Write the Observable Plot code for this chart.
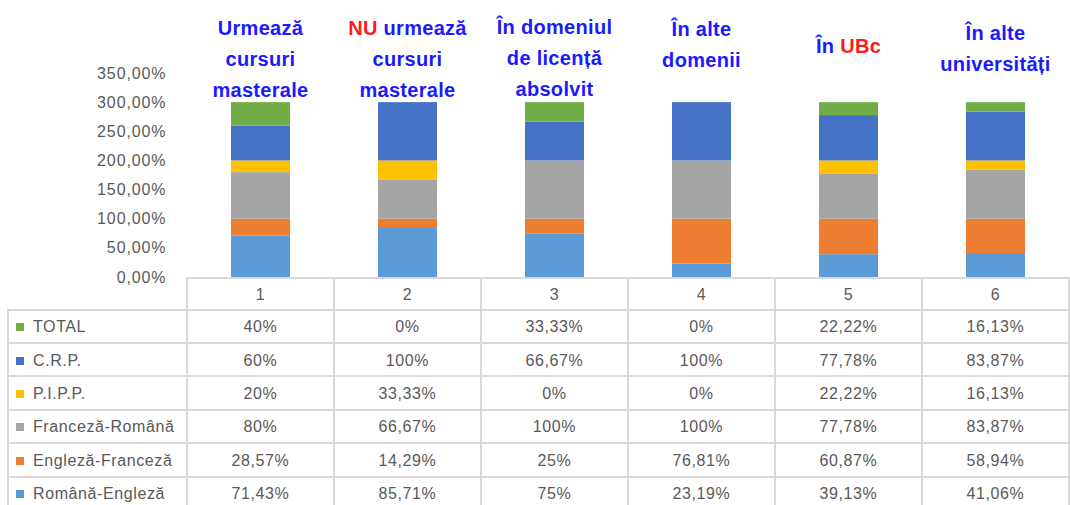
<!DOCTYPE html>
<html>
<head>
<meta charset="utf-8">
<script src="https://cdn.jsdelivr.net/npm/d3@7"></script>
<script src="https://cdn.jsdelivr.net/npm/@observablehq/plot@0.6"></script>
<style>
  html, body { margin: 0; padding: 0; background: #ffffff; }
  #wrap { position: relative; width: 1070px; height: 505px; overflow: hidden;
          font-family: "Liberation Sans", Arial, sans-serif; }
  #wrap svg { position: absolute; left: 0; top: 0; }
  .ln { position: absolute; background: #d9d9d9; }
  .cell { position: absolute; color: #595959; font-size: 16px; letter-spacing: 0.6px;
          display: flex; align-items: center; white-space: nowrap; }
  .center { justify-content: center; }
  .sw { display: inline-block; width: 8px; height: 8px; margin-right: 9px; }
  .title { position: absolute; text-align: center; font-weight: bold; font-size: 20px;
           line-height: 31px; color: #1a1aff; white-space: nowrap; letter-spacing: 0.3px; }
  .title .red { color: #ff1a1a; }
</style>
</head>
<body>
<div id="wrap"></div>
<script>
// ---------- data ----------
const categories = ["1", "2", "3", "4", "5", "6"];
const series = ["Română-Engleză", "Engleză-Franceză", "Franceză-Română", "P.I.P.P.", "C.R.P.", "TOTAL"];
const seriesColors = ["#5b9bd5", "#ed7d31", "#a5a5a5", "#ffc000", "#4472c4", "#70ad47"];
const romanaEngleza   = [71.43, 85.71, 75, 23.19, 39.13, 41.06];
const englezaFranceza = [28.57, 14.29, 25, 76.81, 60.87, 58.94];
const francezaRomana  = [80, 66.67, 100, 100, 77.78, 83.87];
const pipp            = [20, 33.33, 0, 0, 22.22, 16.13];
const crp             = [60, 100, 66.67, 100, 77.78, 83.87];
const total           = [40, 0, 33.33, 0, 22.22, 16.13];
const yTicks = [0, 50, 100, 150, 200, 250, 300, 350];
// *text* marks the red part of a title
const titles = [
  ["Urmează", "cursuri", "masterale"],
  ["*NU* urmează", "cursuri", "masterale"],
  ["În domeniul", "de licență", "absolvit"],
  ["În alte", "domenii"],
  ["În *UBc*"],
  ["În alte", "universități"]
];

// ---------- layout (not data) ----------
const titleBaseline = [35, 35, 34, 36, 53, 40];

const seriesValues = [romanaEngleza, englezaFranceza, francezaRomana, pipp, crp, total];
const rows = [];
series.forEach((s, i) => categories.forEach((c, j) => rows.push({cat: c, series: s, value: seriesValues[i][j]})));

const fmtAxis = d => d.toFixed(2).replace(".", ",") + "%";
const fmtCell = v => (Number.isInteger(v) ? String(v) : v.toFixed(2).replace(".", ",")) + "%";

const plot = Plot.plot({
  width: 1070,
  height: 505,
  marginLeft: 185,
  marginRight: 0,
  marginTop: 73,
  marginBottom: 228,
  style: {fontFamily: '"Liberation Sans", Arial, sans-serif', fontSize: "16px", color: "#595959",
          background: "transparent", letterSpacing: "0.9px"},
  x: {domain: categories, paddingInner: 0.6, paddingOuter: 0.3, axis: null},
  y: {domain: [0, 350], axis: null},
  color: {domain: series, range: seriesColors},
  marks: [
    Plot.axisY({ticks: yTicks, tickSize: 0, tickPadding: 19, tickFormat: fmtAxis, fontSize: 16, label: null}),
    Plot.barY(rows, {x: "cat", y: "value", fill: "series", order: series})
  ]
});

const wrap = document.getElementById("wrap");
wrap.appendChild(plot);

const xs = plot.scale("x"), ys = plot.scale("y");
const step = xs.step;
const colLeft = categories.map(c => xs.apply(c) + xs.bandwidth / 2 - step / 2);
const tableRight = colLeft[colLeft.length - 1] + step;
const tableLeft = 8;
const headerTop = ys.apply(0) + 0.5;
const headerH = 32, rowH = 33.4;
const bodyTop = headerTop + headerH;
const tableBottom = bodyTop + rowH * series.length;

function line(x, y, w, h) {
  const d = document.createElement("div");
  d.className = "ln";
  Object.assign(d.style, {left: x + "px", top: y + "px", width: w + "px", height: h + "px"});
  wrap.appendChild(d);
}
function cell(x, y, w, h, html, cls) {
  const d = document.createElement("div");
  d.className = "cell " + (cls || "");
  Object.assign(d.style, {left: x + "px", top: y + "px", width: w + "px", height: h + "px"});
  d.innerHTML = html;
  wrap.appendChild(d);
}

// grid lines
const bw = 2;
line(colLeft[0] - 1, headerTop - 1, tableRight - colLeft[0] + 2, bw);
for (let k = 0; k <= series.length; k++) line(tableLeft - 1, bodyTop + k * rowH - 1, tableRight - tableLeft + 2, bw);
colLeft.concat([tableRight]).forEach(x => line(x - 1, headerTop - 1, bw, tableBottom - headerTop + 2));
line(tableLeft - 1, bodyTop - 1, bw, tableBottom - bodyTop + 2);

// header numbers
categories.forEach((c, j) => cell(colLeft[j], headerTop + 1, step, headerH, c, "center"));

// body rows (top row = last series)
const tableOrder = series.map((s, i) => i).reverse();
tableOrder.forEach((si, r) => {
  const y = bodyTop + r * rowH + 1;
  cell(tableLeft + 8, y, colLeft[0] - tableLeft - 8, rowH,
       `<span class="sw" style="background:${seriesColors[si]}"></span>${series[si]}`);
  categories.forEach((c, j) => cell(colLeft[j], y, step, rowH, fmtCell(seriesValues[si][j]), "center"));
});

// titles above the bars
titles.forEach((lines, j) => {
  const d = document.createElement("div");
  d.className = "title";
  const cx = colLeft[j] + step / 2;
  Object.assign(d.style, {left: (cx - 100) + "px", width: "200px", top: (titleBaseline[j] - 22) + "px"});
  d.innerHTML = lines.map(l => "<div>" + l.replace(/\*(.+?)\*/g, '<span class="red">$1</span>') + "</div>").join("");
  wrap.appendChild(d);
});
</script>
</body>
</html>
